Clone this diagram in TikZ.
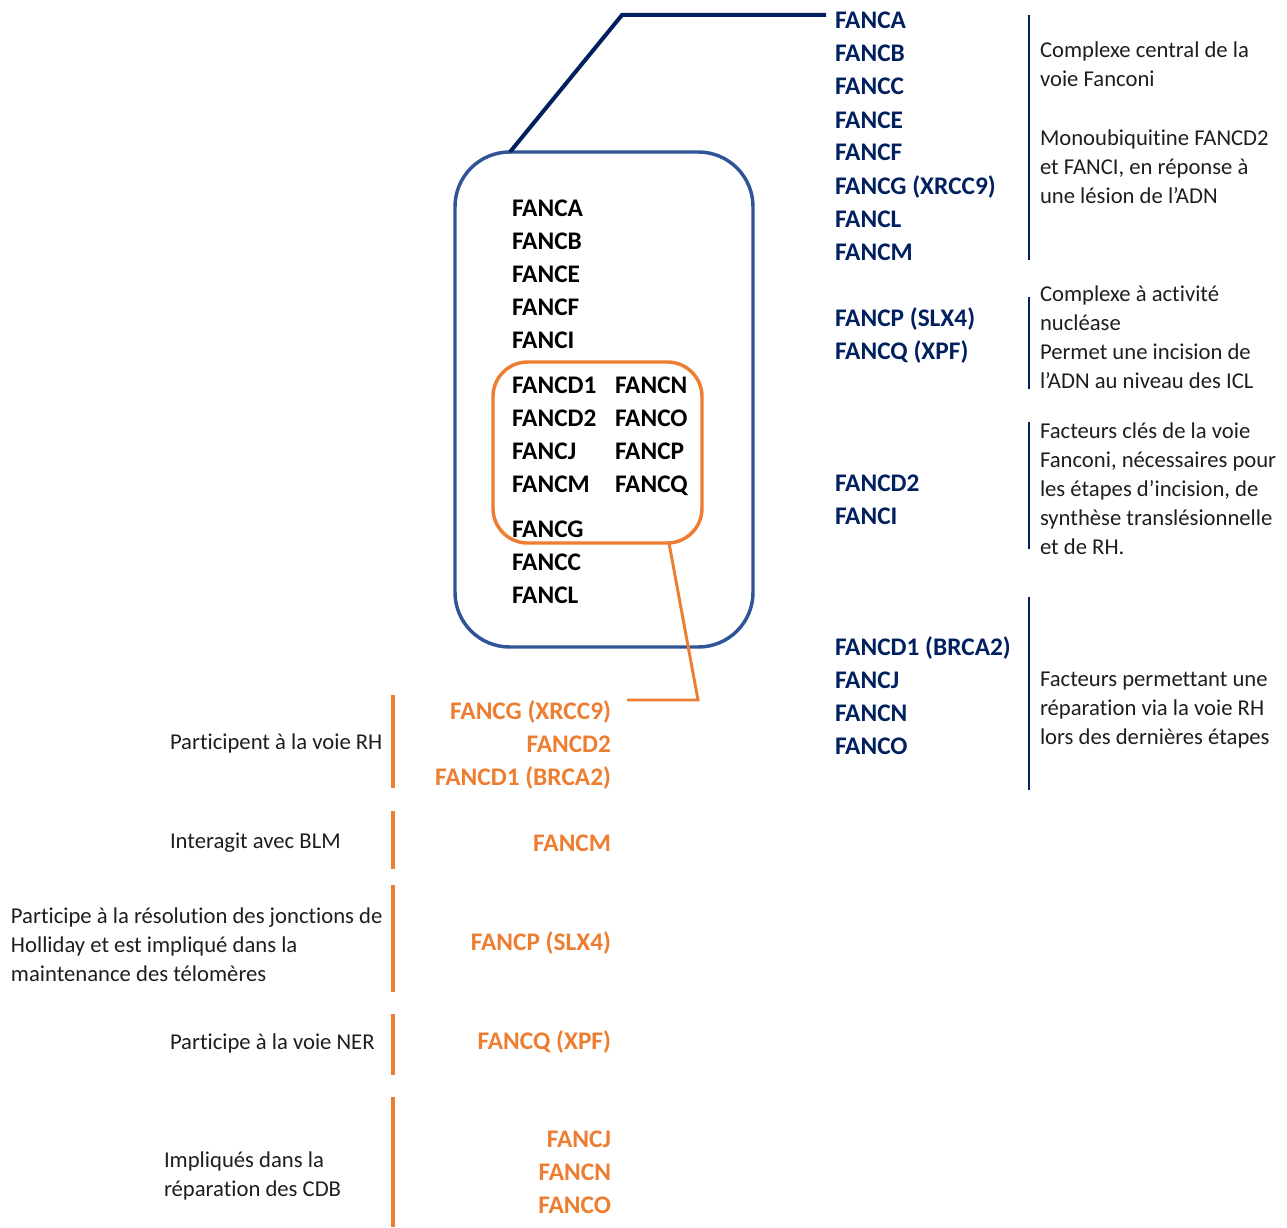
\documentclass[tikz,border=0pt]{standalone}
\usepackage{fontspec}
\setmainfont{Carlito}[Ligatures=NoCommon]
\usetikzlibrary{calc}

\definecolor{fanavy}{HTML}{002060}
\definecolor{fanblue}{HTML}{2F5597}
\definecolor{fanorange}{HTML}{ED7D31}
\definecolor{fantext}{HTML}{1E1E1E}

\tikzset{
  gene/.style={font=\fontsize{19}{24.75}\selectfont\bfseries, inner sep=0pt, outer sep=0pt, anchor=base west},
  desc/.style={font=\fontsize{17}{21.75}\selectfont, text=fantext, inner sep=0pt, outer sep=0pt, anchor=base west, align=left},
}

\begin{document}
\begin{tikzpicture}[x=0.75pt,y=-0.75pt]
        \useasboundingbox (0,0) rectangle (1287,1227);

        % 大框和小框
        \draw [fanblue, line width=2.6pt, rounded corners=41pt] (455,152) rectangle (753,647);
        \draw [fanorange, line width=2.6pt, rounded corners=26pt] (493,362) rectangle (702,543);
        \coordinate (core) at (510,152);
        \coordinate (corefoot) at (669,543);

        % 框内的基因
        \foreach \g [count=\i] in {FANCA,FANCB,FANCE,FANCF,FANCI}
            \node [gene] (c\i) at (512,{216.5+33*(\i-1)}) {\g};
        \foreach \g [count=\i] in {FANCD1,FANCD2,FANCJ,FANCM}
            \node [gene] (d\i) at (512,{393.5+33*(\i-1)}) {\g};
        \foreach \g [count=\i] in {FANCN,FANCO,FANCP,FANCQ}
            \node [gene] (n\i) at (615,{393.5+33*(\i-1)}) {\g};
        \foreach \g [count=\i] in {FANCG,FANCC,FANCL}
            \node [gene] (g\i) at (512,{537.5+33*(\i-1)}) {\g};

        % 右边的基因
        \foreach \g/\y [count=\i] in {FANCA/29,FANCB/62,FANCC/95,FANCE/128,FANCF/161,
            FANCG (XRCC9)/194,FANCL/227,FANCM/260,FANCP (SLX4)/326,FANCQ (XPF)/359,
            FANCD2/491,FANCI/524,FANCD1 (BRCA2)/655,FANCJ/688,FANCN/721,FANCO/754}
            \node [gene, text=fanavy] (r\i) at (835,\y) {\g};

        % 右边的竖线
        \foreach \a/\b in {15/260,297/389,422/549,597/790}
            \draw [fanavy, line width=1.5pt] (1029,\a) -- (1029,\b);

        % 右边的说明 (y = 最后一行的基线)
        \node [desc] (t1) at (1040,86.5) {Complexe central de la\\voie Fanconi};
        \node [desc] (t2) at (1040,203.5) {Monoubiquitine FANCD2\\et FANCI, en réponse à\\une lésion de l’ADN};
        \node [desc] (t3) at (1040,388.5) {Complexe à activité\\nucléase\\Permet une incision de\\l’ADN au niveau des ICL};
        \node [desc] (t4) at (1040,554.5) {Facteurs clés de la voie\\Fanconi, nécessaires pour\\les étapes d’incision, de\\synthèse translésionnelle\\et de RH.};
        \node [desc] (t5) at (1040,744.5) {Facteurs permettant une\\réparation via la voie RH\\lors des dernières étapes};

        % 左下的基因
        \foreach \g/\y [count=\i] in {FANCG (XRCC9)/719.5,FANCD2/752.5,FANCD1 (BRCA2)/785.5,
            FANCM/851.5,FANCP (SLX4)/950.5,FANCQ (XPF)/1049.5,FANCJ/1147.5,FANCN/1180.5,FANCO/1213.5}
            \node [gene, text=fanorange, anchor=base east] (o\i) at (611,\y) {\g};

        % 左下的竖线
        \foreach \a/\b in {695/788,811/869,885/992,1014/1075,1097/1227}
            \draw [fanorange, line width=2.6pt] (393,\a) -- (393,\b);

        % 左下的说明
        \node [desc] (l1) at (170,749.5) {Participent à la voie RH};
        \node [desc] (l2) at (170,848.5) {Interagit avec BLM};
        \node [desc] (l3) at (11,981.5) {Participe à la résolution des jonctions de\\Holliday et est impliqué dans la\\maintenance des télomères};
        \node [desc] (l4) at (170,1049.5) {Participe à la voie NER};
        \node [desc] (l5) at (164,1196.5) {Impliqués dans la\\réparation des CDB};

        % 连线
        \coordinate (navyend) at (826,15);
        \coordinate (orangeend) at (627,700);
        \draw [fanavy, line width=3pt] (core) -- (622,15) -- (navyend);
        \draw [fanorange, line width=2.2pt] (corefoot) -- (698,700) -- (orangeend);

\end{tikzpicture}
\end{document}
